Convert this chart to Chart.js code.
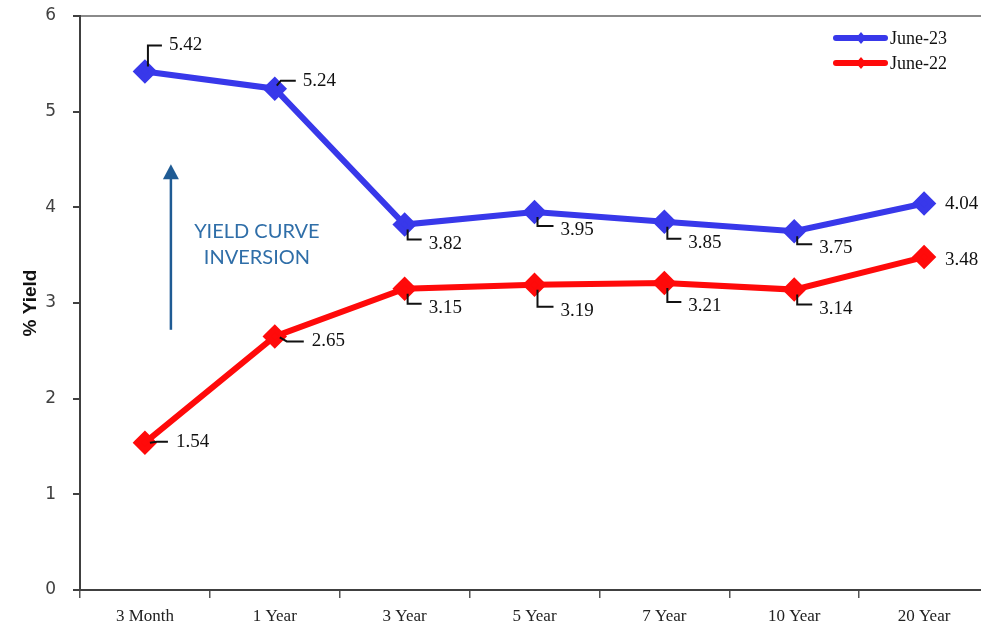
<!DOCTYPE html>
<html>
<head>
<meta charset="utf-8">
<script src="https://cdn.jsdelivr.net/npm/chart.js@4"></script>
<style>
    html, body { margin: 0; padding: 0; background: #fff; overflow: hidden; }
    #wrap { position: absolute; left: 0; top: 0; width: 1003px; height: 629px; }
</style>
</head>
<body>
<div id="wrap"><canvas id="yieldChart" width="1003" height="629"></canvas></div>
<script>
// maturities along the curve
var maturities = ['3 Month', '1 Year', '3 Year', '5 Year', '7 Year', '10 Year', '20 Year'];
var yieldsJune23 = [5.42, 5.24, 3.82, 3.95, 3.85, 3.75, 4.04];
var yieldsJune22 = [1.54, 2.65, 3.15, 3.19, 3.21, 3.14, 3.48];
var seriesNames = ['June-23', 'June-22'];
var yTicks = [0, 1, 2, 3, 4, 5, 6];

// where each value label sits relative to its point: [dx, dy, leader kind]
var labelPlaceBlue = [[24, -26, 'up'], [28, -8, 'kink'], [24, 15, 'down'], [26, 14, 'down'], [24, 17, 'down'], [25, 13, 'down'], [21, 1, 'none']];
var labelPlaceRed = [[31, -1, 'side'], [37, 5, 'side'], [24, 15, 'down'], [26, 22, 'down'], [24, 19, 'down'], [25, 15, 'down'], [21, 3, 'none']];

var blue = '#3838ea';
var red = '#ff0a0a';

var valueLabels = {
    id: 'valueLabels',
    afterDatasetsDraw: function (chart) {
        var ctx = chart.ctx;
        var places = [labelPlaceBlue, labelPlaceRed];
        ctx.save();
        ctx.font = '19px "Liberation Serif", "Times New Roman", serif';
        ctx.fillStyle = '#111';
        ctx.strokeStyle = '#111';
        ctx.lineWidth = 2;
        ctx.textBaseline = 'middle';
        chart.data.datasets.forEach(function (ds, di) {
            var meta = chart.getDatasetMeta(di);
            meta.data.forEach(function (pt, i) {
                var p = places[di][i];
                var x = pt.x, y = pt.y;
                var cy = y + p[1];
                ctx.beginPath();
                if (p[2] === 'up') {
                    ctx.moveTo(x + 3, y - 5);
                    ctx.lineTo(x + 3, cy);
                    ctx.lineTo(x + p[0] - 7, cy);
                } else if (p[2] === 'down') {
                    ctx.moveTo(x + 3, y + 5);
                    ctx.lineTo(x + 3, cy);
                    ctx.lineTo(x + p[0] - 7, cy);
                } else if (p[2] === 'kink') {
                    ctx.moveTo(x + 2, y - 3);
                    ctx.lineTo(x + 6, cy);
                    ctx.lineTo(x + p[0] - 7, cy);
                } else if (p[2] === 'side') {
                    ctx.moveTo(x + 5, y + (p[1] > 0 ? 1 : 0));
                    ctx.lineTo(x + 12, cy);
                    ctx.lineTo(x + p[0] - 8, cy);
                }
                ctx.stroke();
                var ty = p[2] === 'down' ? cy + 4 : cy;
                ctx.fillText(ds.data[i].toFixed(2), x + p[0], ty);
            });
        });
        ctx.restore();
    }
};

// legend in the top right corner plus the inversion arrow and note
var extras = {
    id: 'extras',
    afterDraw: function (chart) {
        var ctx = chart.ctx;
        var xs = chart.scales.x, ys = chart.scales.y;
        ctx.save();

        // legend
        ctx.font = '18px "Liberation Serif", "Times New Roman", serif';
        ctx.textBaseline = 'middle';
        chart.data.datasets.forEach(function (ds, di) {
            var ly = 38 + di * 25;
            ctx.strokeStyle = ds.borderColor;
            ctx.lineWidth = 6;
            ctx.lineCap = 'round';
            ctx.beginPath();
            ctx.moveTo(836, ly);
            ctx.lineTo(885, ly);
            ctx.stroke();
            ctx.fillStyle = ds.borderColor;
            ctx.beginPath();
            ctx.moveTo(861, ly - 6);
            ctx.lineTo(866, ly);
            ctx.lineTo(861, ly + 6);
            ctx.lineTo(856, ly);
            ctx.closePath();
            ctx.fill();
            ctx.fillStyle = '#111';
            ctx.fillText(ds.label, 890, ly + 1);
        });

        // arrow from the June-22 level up toward the June-23 level
        var ax = xs.getPixelForValue(0.2);
        var y0 = ys.getPixelForValue(2.72);
        var y1 = ys.getPixelForValue(4.45);
        ctx.strokeStyle = '#1f5b94';
        ctx.fillStyle = '#1f5b94';
        ctx.lineWidth = 2.5;
        ctx.lineCap = 'butt';
        ctx.beginPath();
        ctx.moveTo(ax, y0);
        ctx.lineTo(ax, y1 + 12);
        ctx.stroke();
        ctx.beginPath();
        ctx.moveTo(ax, y1);
        ctx.lineTo(ax - 8, y1 + 15);
        ctx.lineTo(ax + 8, y1 + 15);
        ctx.closePath();
        ctx.fill();

        ctx.fillStyle = '#2f6ea8';
        ctx.font = '20px Lato, "Open Sans", sans-serif';
        ctx.textAlign = 'center';
        ctx.fillText('YIELD CURVE', ax + 86, 232);
        ctx.fillText('INVERSION', ax + 86, 258);
        ctx.restore();
    }
};

var chart = new Chart(document.getElementById('yieldChart'), {
    type: 'line',
    data: {
        labels: maturities,
        datasets: [
            {
                label: seriesNames[0],
                data: yieldsJune23,
                borderColor: blue,
                backgroundColor: blue,
                borderWidth: 6,
                pointStyle: 'rectRot',
                pointRadius: 8,
                pointHoverRadius: 8,
                tension: 0
            },
            {
                label: seriesNames[1],
                data: yieldsJune22,
                borderColor: red,
                backgroundColor: red,
                borderWidth: 6,
                pointStyle: 'rectRot',
                pointRadius: 8,
                pointHoverRadius: 8,
                tension: 0
            }
        ]
    },
    options: {
        responsive: false,
        animation: false,
        devicePixelRatio: 1,
        layout: { padding: { top: 16, right: 0, bottom: 0, left: 0 } },
        plugins: {
            legend: { display: false },
            tooltip: { enabled: false }
        },
        scales: {
            x: {
                offset: true,
                grid: {
                    offset: true,
                    color: 'transparent',
                    tickColor: '#555',
                    tickLength: 8,
                    lineWidth: 1.5
                },
                border: { color: '#404040', width: 2 },
                ticks: {
                    color: '#222',
                    padding: 8,
                    maxRotation: 0,
                    font: { family: '"Liberation Serif", "Times New Roman", serif', size: 17 }
                },
                afterFit: function (scale) { scale.height = 39; }
            },
            y: {
                min: yTicks[0],
                max: yTicks[yTicks.length - 1],
                afterBuildTicks: function (scale) {
                    scale.ticks = yTicks.map(function (v) { return { value: v }; });
                },
                grid: {
                    color: function (c) { return c.tick && c.tick.value === 6 ? '#8a8a8a' : 'transparent'; },
                    lineWidth: 2,
                    tickColor: '#404040',
                    tickLength: 7
                },
                border: { color: '#404040', width: 2 },
                ticks: {
                    color: '#404040',
                    padding: 17,
                    font: { family: '"DejaVu Sans", Verdana, sans-serif', size: 17 }
                },
                title: {
                    display: true,
                    text: '% Yield',
                    color: '#111',
                    padding: { top: 19, bottom: 0 },
                    font: { family: '"Liberation Sans", Arial, sans-serif', size: 19, weight: 'bold' }
                },
                afterFit: function (scale) {
                    scale.width = 80;
                    scale.paddingTop = 0;
                    scale.paddingBottom = 0;
                }
            }
        }
    },
    plugins: [valueLabels, extras]
});
</script>
</body>
</html>
